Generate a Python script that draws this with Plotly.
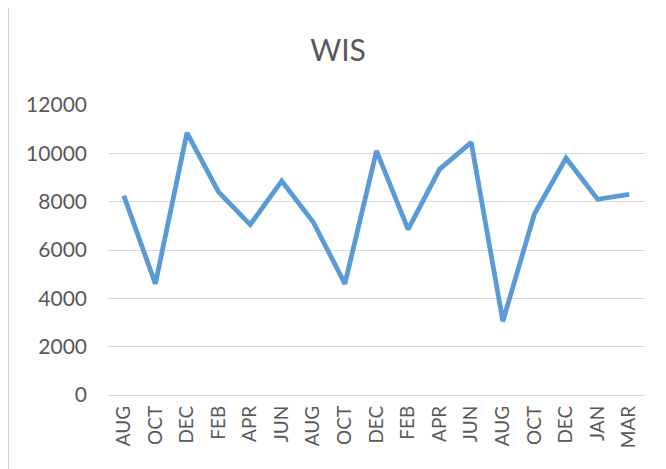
import plotly.graph_objects as go

months = ["AUG", "OCT", "DEC", "FEB", "APR", "JUN", "AUG", "OCT", "DEC",
          "FEB", "APR", "JUN", "AUG", "OCT", "DEC", "JAN", "MAR"]
wis_values = [8250, 4600, 10850, 8400, 7050, 8850, 7150, 4600, 10100,
              6850, 9350, 10450, 3050, 7500, 9800, 8100, 8300]
y_ticks = [0, 2000, 4000, 6000, 8000, 10000, 12000]
y_tick_labels = [str(v) for v in y_ticks]

positions = list(range(len(months)))

# page body has an 8px margin; figure sits at (8, 8) in the window
OFF = 8
W, H = 666 - OFF, 469 - OFF
ml, mr, mt, mb = 108 - OFF, 21, 105 - OFF, 74
pw, ph = W - ml - mr, H - mt - mb

def px_x(p):
    return (p - OFF - ml) / pw

def px_y(p):
    return (H - mb - (p - OFF)) / ph

fig = go.Figure()
fig.add_trace(go.Scatter(
    x=positions, y=wis_values, mode="lines",
    line=dict(color="#5B9BD5", width=4.8),
    hoverinfo="skip", showlegend=False,
))

fig.add_shape(type="rect", xref="paper", yref="paper",
              x0=px_x(8.5), x1=px_x(700), y0=px_y(500), y1=px_y(7.5),
              fillcolor="white", line=dict(color="#d4d4d4", width=1),
              layer="below")

fig.update_layout(
    width=W, height=H,
    margin=dict(l=ml, r=mr, t=mt, b=mb, autoexpand=False),
    paper_bgcolor="#e9e9e9",
    plot_bgcolor="rgba(0,0,0,0)",
    font=dict(family="Lato, Open Sans, sans-serif", color="#595959"),
    title=dict(text="WIS", x=(338 - OFF) / W, xref="container",
               xanchor="center",
               y=1 - (50 - OFF) / H, yanchor="middle", yref="container",
               font=dict(size=30, color="#595959")),
    xaxis=dict(
        range=[-0.5, len(months) - 0.5],
        tickmode="array", tickvals=positions, ticktext=months,
        tickangle=-90, showgrid=False, zeroline=False, showline=False,
        ticks="", tickfont=dict(size=19, color="#595959"),
        ticklabelstandoff=6, fixedrange=True, automargin=False,
    ),
    yaxis=dict(
        range=[0, 12000], tickmode="array", tickvals=y_ticks,
        ticktext=y_tick_labels,
        showgrid=True, gridcolor="#d9d9d9", gridwidth=1,
        zeroline=True, zerolinecolor="#d9d9d9", zerolinewidth=1,
        showline=False, ticks="", tickfont=dict(size=21, color="#595959"),
        ticklabelstandoff=20, fixedrange=True, automargin=False,
    ),
)

fig.write_html("out.html")
